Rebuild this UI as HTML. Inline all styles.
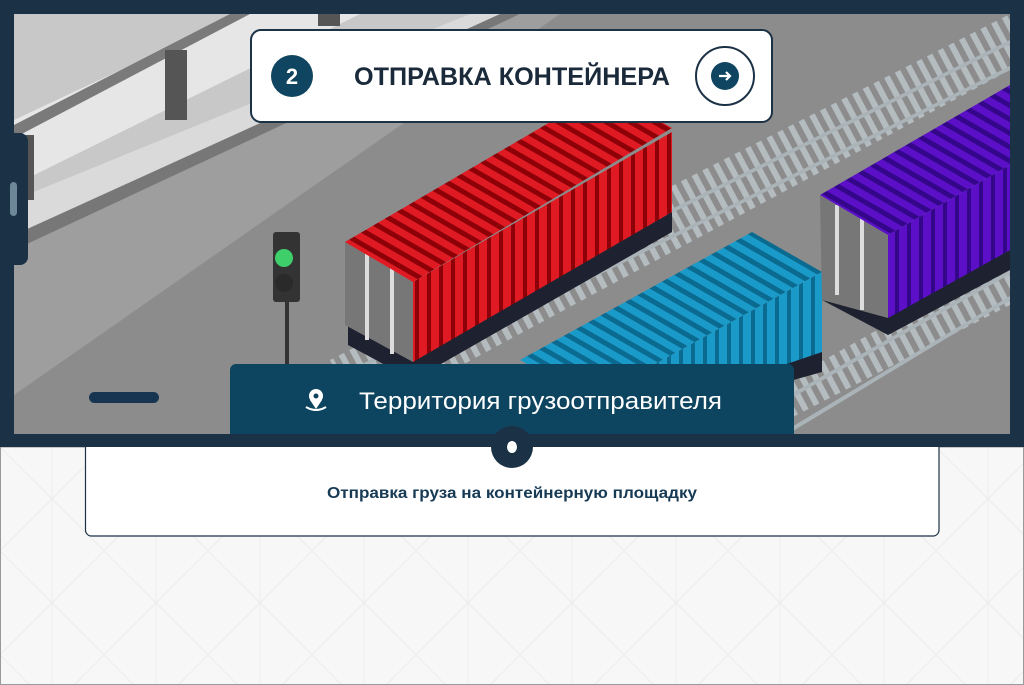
<!DOCTYPE html>
<html><head><meta charset="utf-8"><style>
html,body{margin:0;padding:0;width:1024px;height:685px;overflow:hidden;background:#f7f7f7;font-family:"Liberation Sans",sans-serif}
</style></head><body>
<svg width="1024" height="685" viewBox="0 0 1024 685" xmlns="http://www.w3.org/2000/svg" style="position:absolute;left:0;top:0">
<defs>
<pattern id="bg" width="104" height="104" patternUnits="userSpaceOnUse" x="0" y="447">
<path d="M0 0L104 104M104 0L0 104M52 0V104" stroke="#ececec" stroke-width="1" fill="none"/>
</pattern>
<pattern id="sleep" width="12" height="40" patternUnits="userSpaceOnUse" patternTransform="rotate(-28)">
<rect width="6" height="40" fill="#b4bcc0"/>
</pattern>
<pattern id="rv" width="12" height="10" patternUnits="userSpaceOnUse"><rect width="12" height="10" fill="#e01a22"/><rect x="7" width="4" height="10" fill="#8e0008"/></pattern>
<pattern id="rt" width="12" height="12" patternUnits="userSpaceOnUse" patternTransform="rotate(30)"><rect width="12" height="12" fill="#e01a22"/><rect y="4" width="12" height="5" fill="#8e0008"/></pattern>
<pattern id="bv" width="12" height="10" patternUnits="userSpaceOnUse"><rect width="12" height="10" fill="#1a9ac8"/><rect x="7" width="4" height="10" fill="#0a6a90"/></pattern>
<pattern id="bt" width="12" height="12" patternUnits="userSpaceOnUse" patternTransform="rotate(30)"><rect width="12" height="12" fill="#1a9ac8"/><rect y="4" width="12" height="5" fill="#0a6a90"/></pattern>
<pattern id="pv" width="12" height="10" patternUnits="userSpaceOnUse"><rect width="12" height="10" fill="#5b10c8"/><rect x="7" width="4" height="10" fill="#34078a"/></pattern>
<pattern id="pt" width="12" height="12" patternUnits="userSpaceOnUse" patternTransform="rotate(30)"><rect width="12" height="12" fill="#5b10c8"/><rect y="4" width="12" height="5" fill="#34078a"/></pattern>
<clipPath id="sc"><rect x="14" y="14" width="996" height="420"/></clipPath>
</defs>
<rect x="0" y="447" width="1024" height="238" fill="url(#bg)"/>
<rect x="0.5" y="447" width="1023" height="237.5" fill="none" stroke="#999" stroke-width="1"/>
<rect x="0" y="0" width="1024" height="447" fill="#1b3246"/>
<g clip-path="url(#sc)">
<rect x="14" y="14" width="996" height="420" fill="#8c8c8c"/>
<polygon points="14,14 560,14 14,395" fill="#9e9e9e"/>
<polygon points="14,14 470,14 14,235" fill="#c8c8c8"/>
<polygon points="14,200 470,14 520,14 14,240" fill="#dadada"/>
<polygon points="14,120 240,14 360,14 14,185" fill="#e6e6e6"/>
<polygon points="14,125 230,14 250,14 14,138" fill="#7a7a7a"/>
<polygon points="14,235 500,14 520,14 14,250" fill="#777"/>
<rect x="165" y="50" width="22" height="70" fill="#555"/>
<rect x="318" y="14" width="22" height="12" fill="#555"/>
<rect x="24" y="135" width="10" height="65" fill="#555"/>
<polygon points="330,360 1010,14 1010,70 360,420" fill="url(#sleep)"/>
<polygon points="330,380 1010,40 1010,44 330,384" fill="#aab4b8"/>
<polygon points="330,405 1010,66 1010,70 330,409" fill="#aab4b8"/>
<polygon points="700,430 1010,255 1010,305 760,434" fill="url(#sleep)"/>
<polygon points="720,434 1010,270 1010,274 728,434" fill="#aab4b8"/>
<polygon points="780,434 1010,296 1010,300 788,434" fill="#aab4b8"/>
<rect x="285" y="295" width="4" height="70" fill="#333"/>
<rect x="273" y="232" width="27" height="70" rx="3" fill="#333"/>
<circle cx="284" cy="258" r="9" fill="#3ecf6a"/>
<circle cx="284" cy="283" r="9" fill="#2a2a2a"/>
<polygon points="413,360 672,212 672,232 413,380 348,345 348,325" fill="#1e2230"/>
<polygon points="345,242 413,282 413,362 345,325" fill="#777"/>
<rect x="365" y="250" width="4" height="90" fill="#ddd"/><rect x="390" y="262" width="4" height="92" fill="#ddd"/>
<polygon points="413,282 672,132 672,212 413,362" fill="url(#rv)"/>
<polygon points="345,242 605,90 672,128 413,282" fill="url(#rt)"/>
<polygon points="560,434 822,350 822,372 600,434" fill="#1e2230"/>
<polygon points="520,360 752,232 822,272 590,400" fill="url(#bt)"/>
<polygon points="590,400 822,272 822,352 580,434 520,434" fill="url(#bv)"/>
<polygon points="888,315 1010,250 1010,270 888,335 822,300" fill="#1e2230"/>
<polygon points="820,195 888,235 888,318 822,300" fill="#777"/>
<rect x="835" y="205" width="4" height="90" fill="#ddd"/><rect x="860" y="218" width="4" height="92" fill="#ddd"/>
<polygon points="888,235 1010,165 1010,250 888,318" fill="url(#pv)"/>
<polygon points="820,195 1010,85 1010,165 888,235" fill="url(#pt)"/>
<rect x="89" y="392" width="70" height="11" rx="5.5" fill="#173550"/>
</g>
<rect x="0" y="133" width="28" height="132" rx="8" fill="#1b3246"/>
<rect x="10" y="182" width="7" height="34" rx="3.5" fill="#6e8798"/>
<rect x="251" y="30" width="521" height="92" rx="10" fill="#fff" stroke="#1b3246" stroke-width="2"/>
<circle cx="292" cy="76" r="21" fill="#0f4560"/>
<text x="292" y="84" font-size="22" font-weight="bold" fill="#fff" text-anchor="middle">2</text>
<text x="354" y="85" font-size="25" font-weight="bold" fill="#1b2a3a" textLength="316" lengthAdjust="spacingAndGlyphs">ОТПРАВКА КОНТЕЙНЕРА</text>
<circle cx="725" cy="76" r="29" fill="#fff" stroke="#1b3246" stroke-width="2"/>
<circle cx="725" cy="76" r="14" fill="#0f4560"/>
<path d="M719 76H730M726 72L730 76L726 80" stroke="#fff" stroke-width="2.2" fill="none"/>
<path d="M230 434V370a6 6 0 0 1 6-6H788a6 6 0 0 1 6 6V434Z" fill="#0d4560"/>
<circle cx="316" cy="396" r="7" fill="#fff"/><circle cx="316" cy="396" r="2.5" fill="#0d4560"/>
<path d="M310 400L316 409L322 400Z" fill="#fff"/>
<path d="M306 407Q316 413 326 407" stroke="#fff" stroke-width="2" fill="none"/>
<text x="359" y="409" font-size="24" fill="#fff" textLength="363" lengthAdjust="spacingAndGlyphs">Территория грузоотправителя</text>
<path d="M85.5 447V530a6 6 0 0 0 6 6H933a6 6 0 0 0 6-6V447" fill="#fff" stroke="#1b3246" stroke-width="1.2"/>
<circle cx="512" cy="447" r="21" fill="#1b3246"/>
<ellipse cx="512" cy="447" rx="5" ry="6" fill="#fff"/>
<text x="327" y="498" font-size="16" font-weight="bold" fill="#173a55" textLength="370" lengthAdjust="spacingAndGlyphs">Отправка груза на контейнерную площадку</text>
</svg>
</body></html>
